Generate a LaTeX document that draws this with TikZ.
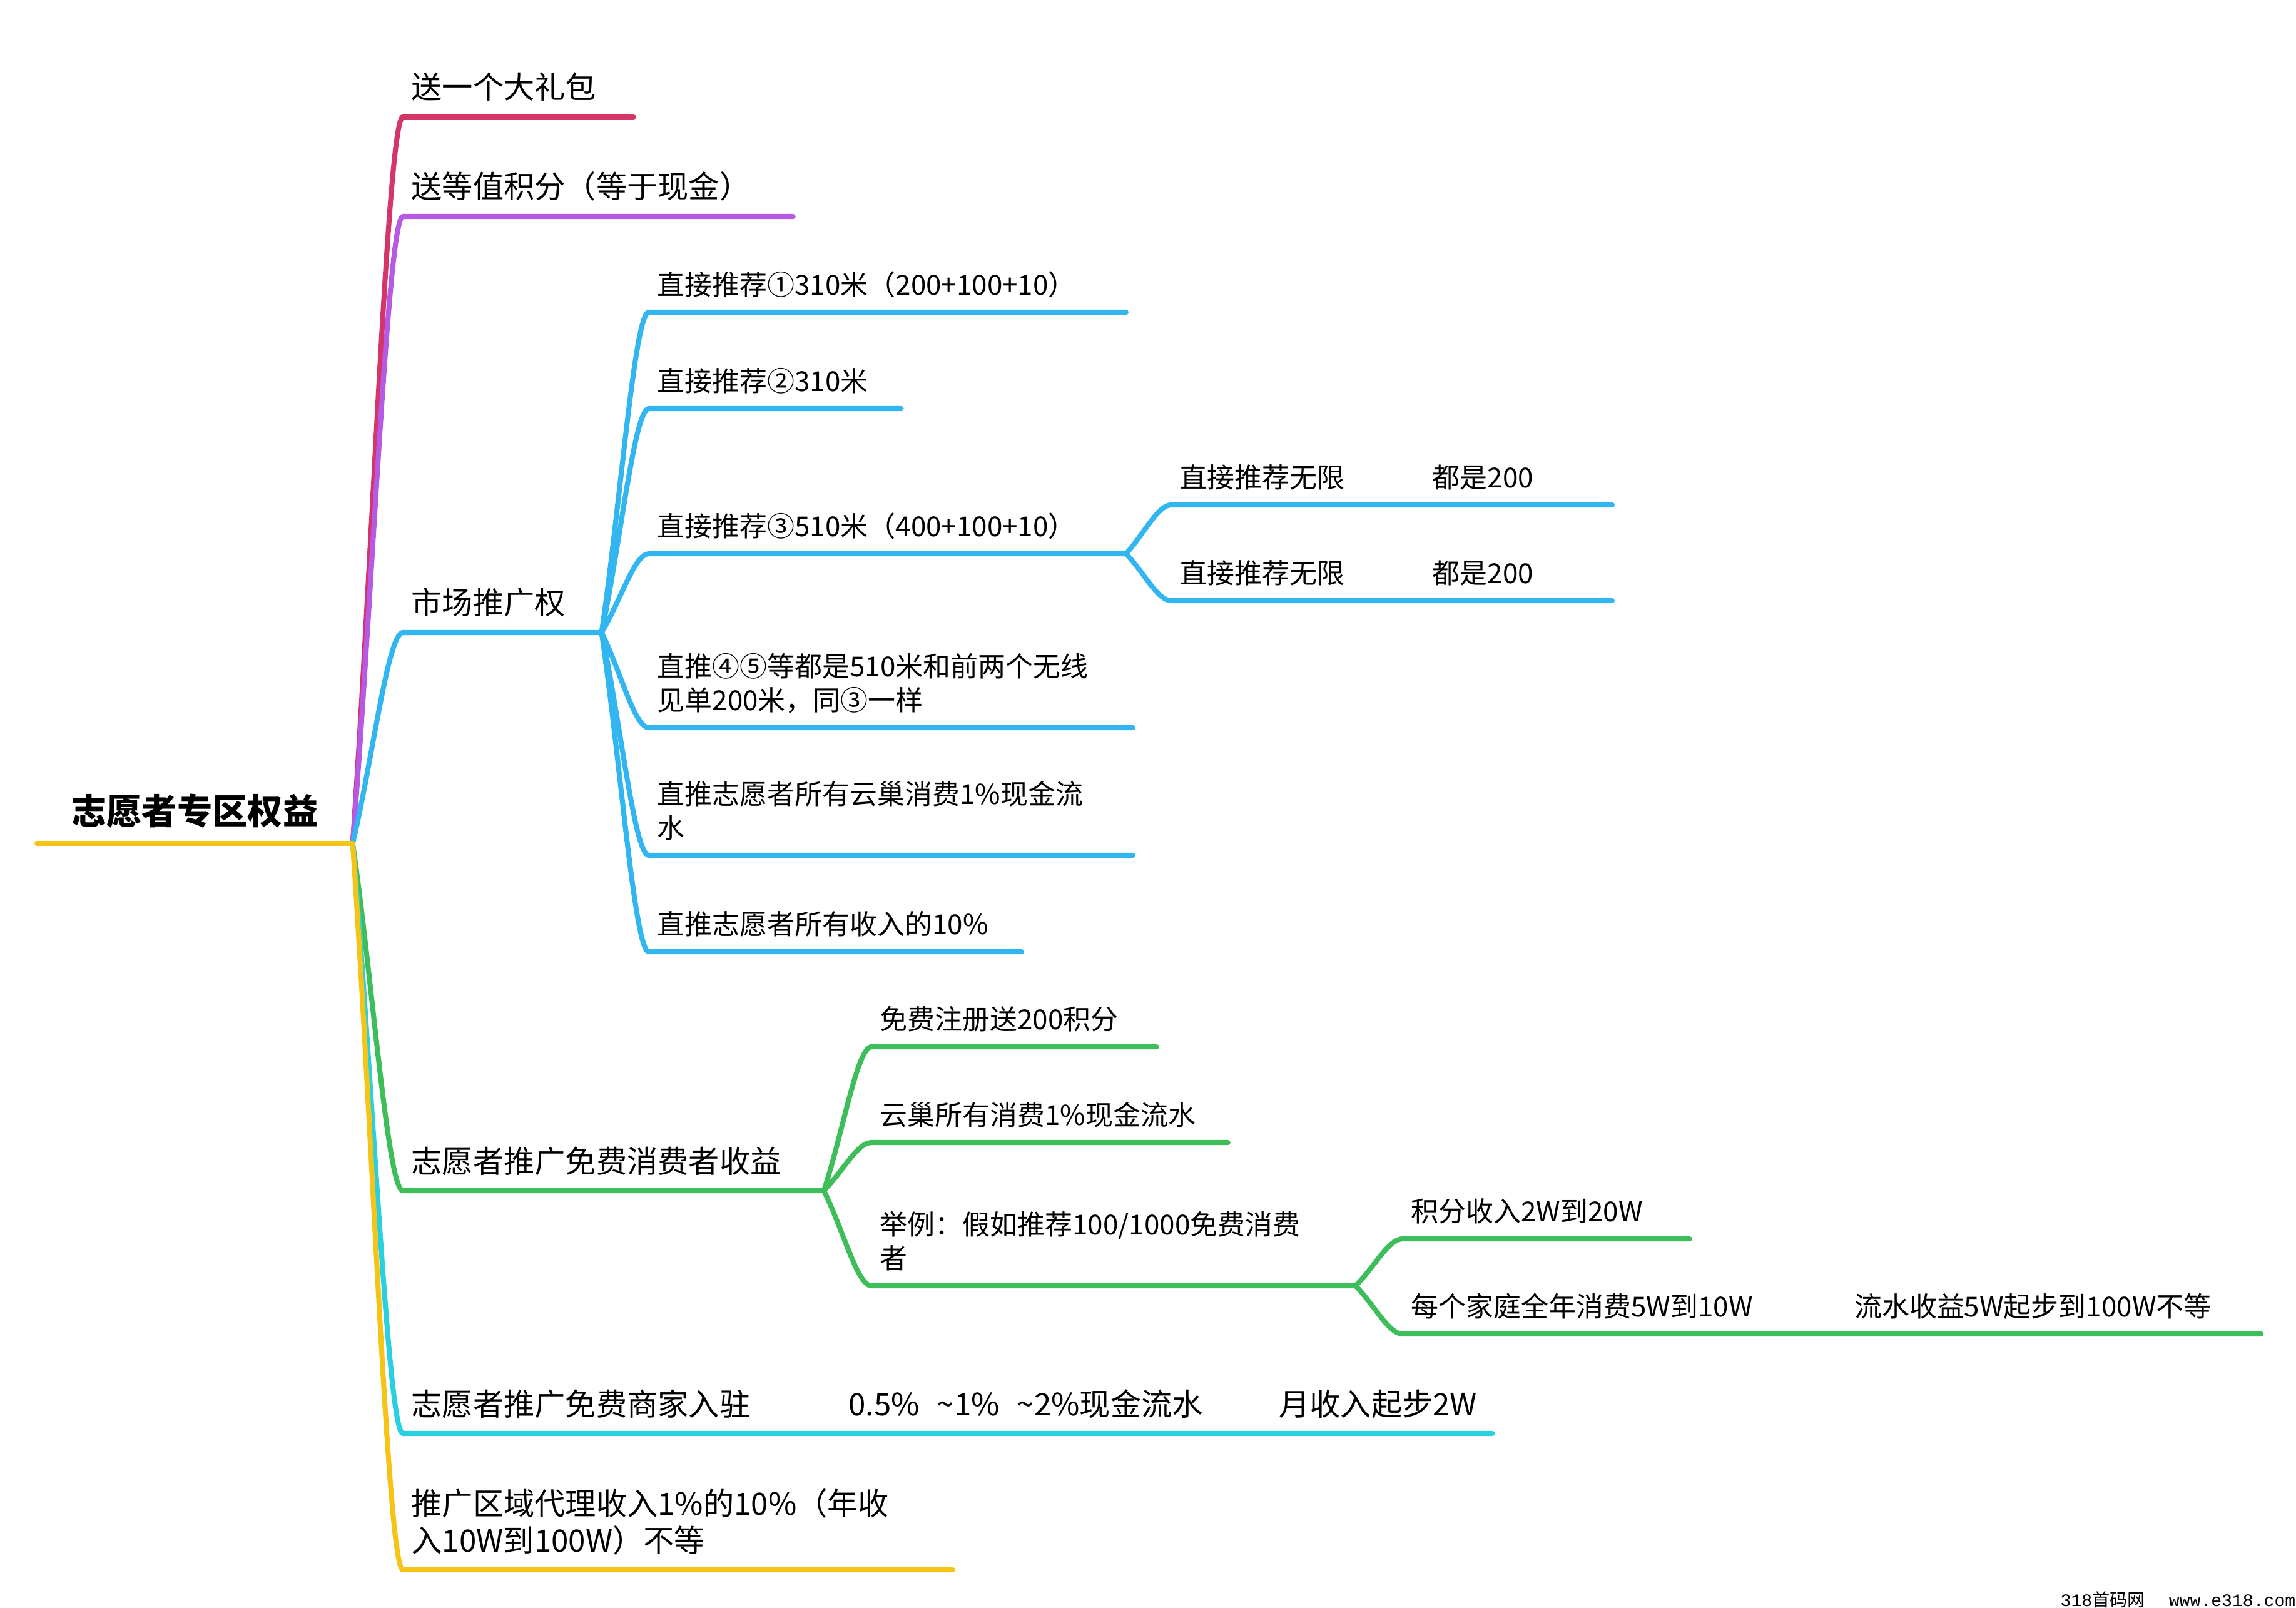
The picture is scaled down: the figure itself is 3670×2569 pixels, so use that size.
\documentclass[tikz,border=0pt]{standalone}
\usepackage{fontspec}
\setmainfont{Noto Sans CJK SC}
\newfontfamily\markfont{Liberation Mono}
\usetikzlibrary{calc}

\definecolor{giftred}{RGB}{213,54,104}
\definecolor{pointpurple}{RGB}{182,90,230}
\definecolor{marketblue}{RGB}{50,182,242}
\definecolor{consumergreen}{RGB}{62,190,90}
\definecolor{merchantcyan}{RGB}{40,208,224}
\definecolor{agentyellow}{RGB}{246,196,22}

\begin{document}
\begin{tikzpicture}[
      x=0.01cm, y=-0.01cm,
      rootnode/.style={anchor=south west, inner xsep=0.13cm, inner ysep=0.16cm, text width=#1, align=center, font=\fontsize{16}{19}\selectfont\bfseries, execute at end node={\rule[-0.25em]{0pt}{0.25em}}},
      topic/.style={anchor=south west, inner xsep=0.13cm, inner ysep=0.16cm, text width=#1, align=left, font=\fontsize{14}{16.6}\selectfont, execute at end node={\rule[-0.25em]{0pt}{0.25em}}},
      subtopic/.style={anchor=south west, inner xsep=0.13cm, inner ysep=0.16cm, text width=#1, align=left, font=\fontsize{12.5}{15.3}\selectfont, execute at end node={\rule[-0.25em]{0pt}{0.25em}}},
      stem/.style={draw=#1, line width=2.3pt, line cap=round},
      curvy/.style={to path={.. controls ($(\tikztostart)!0.4!(\tikztotarget)$) and ($(\tikztotarget)!0.3!(\tikztotarget -| \tikztostart)$) .. (\tikztotarget)}}
    ]
    \useasboundingbox (0,0) rectangle (3670,2569);

    \node [rootnode=4.77cm] (root) at (59,1348) {志愿者专区权益};

    \node [topic=3.41cm] (gift) at (644,187) {送一个大礼包};
    \node [topic=5.96cm] (points) at (644,346) {送等值积分（等于现金）};
    \node [topic=2.90cm] (market) at (644,1011) {市场推广权};
    \node [topic=6.45cm] (consumer) at (644,1903) {志愿者推广免费消费者收益};
    \node [topic=17.13cm] (merchant) at (644,2291) {\makebox[6.98cm][l]{志愿者推广免费商家入驻}\makebox[6.88cm][l]{0.5\%\hspace{0.28cm}\textasciitilde1\%\hspace{0.28cm}\textasciitilde2\%现金流水}月收入起步2W};
    \node [topic=8.51cm] (agent) at (644,2509) {推广区域代理收入1\%的10\%（年收\\入10W到100W）不等};

    \node [subtopic=7.35cm] (refer1) at (1037,499) {直接推荐①310米（200+100+10）};
    \node [subtopic=3.76cm] (refer2) at (1037,653) {直接推荐②310米};
    \node [subtopic=7.35cm] (refer3) at (1037,885) {直接推荐③510米（400+100+10）};
    \node [subtopic=7.46cm] (refer45) at (1037,1163) {直推④⑤等都是510米和前两个无线\\见单200米，同③一样};
    \node [subtopic=7.46cm] (cashflow) at (1037,1367) {直推志愿者所有云巢消费1\%现金流\\水};
    \node [subtopic=5.68cm] (income) at (1037,1521) {直推志愿者所有收入的10\%};

    \node [subtopic=6.77cm] (unlimA) at (1872,807) {\makebox[4.04cm][l]{直接推荐无限}都是200};
    \node [subtopic=6.77cm] (unlimB) at (1872,960) {\makebox[4.04cm][l]{直接推荐无限}都是200};

    \node [subtopic=4.28cm] (signup) at (1393,1673) {免费注册送200积分};
    \node [subtopic=5.42cm] (yunchao) at (1393,1826) {云巢所有消费1\%现金流水};
    \node [subtopic=7.46cm] (example) at (1393,2055) {举例：假如推荐100/1000免费消费\\者};

    \node [subtopic=4.31cm] (pointsinc) at (2242,1980) {积分收入2W到20W};
    \node [subtopic=13.44cm] (family) at (2242,2132) {\makebox[7.08cm][l]{每个家庭全年消费5W到10W}流水收益5W起步到100W不等};

    \node [anchor=east, inner sep=0pt, font=\fontsize{8}{9}\selectfont] (mark) at (3670,2557) {{\markfont 318}首码网\hspace{0.38cm}{\markfont www.e318.com}};

    \draw [stem=giftred] (root.south east) to[curvy] (gift.south west) -- (gift.south east);
    \draw [stem=pointpurple] (root.south east) to[curvy] (points.south west) -- (points.south east);
    \draw [stem=marketblue] (root.south east) to[curvy] (market.south west) -- (market.south east);
    \draw [stem=consumergreen] (root.south east) to[curvy] (consumer.south west) -- (consumer.south east);
    \draw [stem=merchantcyan] (root.south east) to[curvy] (merchant.south west) -- (merchant.south east);
    \draw [stem=agentyellow] (root.south east) to[curvy] (agent.south west) -- (agent.south east);
    \draw [stem=agentyellow] (root.south west) -- (root.south east);

    \draw [stem=marketblue] (market.south east) to[curvy] (refer1.south west) -- (refer1.south east);
    \draw [stem=marketblue] (market.south east) to[curvy] (refer2.south west) -- (refer2.south east);
    \draw [stem=marketblue] (market.south east) to[curvy] (refer3.south west) -- (refer3.south east);
    \draw [stem=marketblue] (market.south east) to[curvy] (refer45.south west) -- (refer45.south east);
    \draw [stem=marketblue] (market.south east) to[curvy] (cashflow.south west) -- (cashflow.south east);
    \draw [stem=marketblue] (market.south east) to[curvy] (income.south west) -- (income.south east);

    \draw [stem=marketblue] (refer3.south east) to[curvy] (unlimA.south west) -- (unlimA.south east);
    \draw [stem=marketblue] (refer3.south east) to[curvy] (unlimB.south west) -- (unlimB.south east);

    \draw [stem=consumergreen] (consumer.south east) to[curvy] (signup.south west) -- (signup.south east);
    \draw [stem=consumergreen] (consumer.south east) to[curvy] (yunchao.south west) -- (yunchao.south east);
    \draw [stem=consumergreen] (consumer.south east) to[curvy] (example.south west) -- (example.south east);

    \draw [stem=consumergreen] (example.south east) to[curvy] (pointsinc.south west) -- (pointsinc.south east);
    \draw [stem=consumergreen] (example.south east) to[curvy] (family.south west) -- (family.south east);
  \end{tikzpicture}
\end{document}
